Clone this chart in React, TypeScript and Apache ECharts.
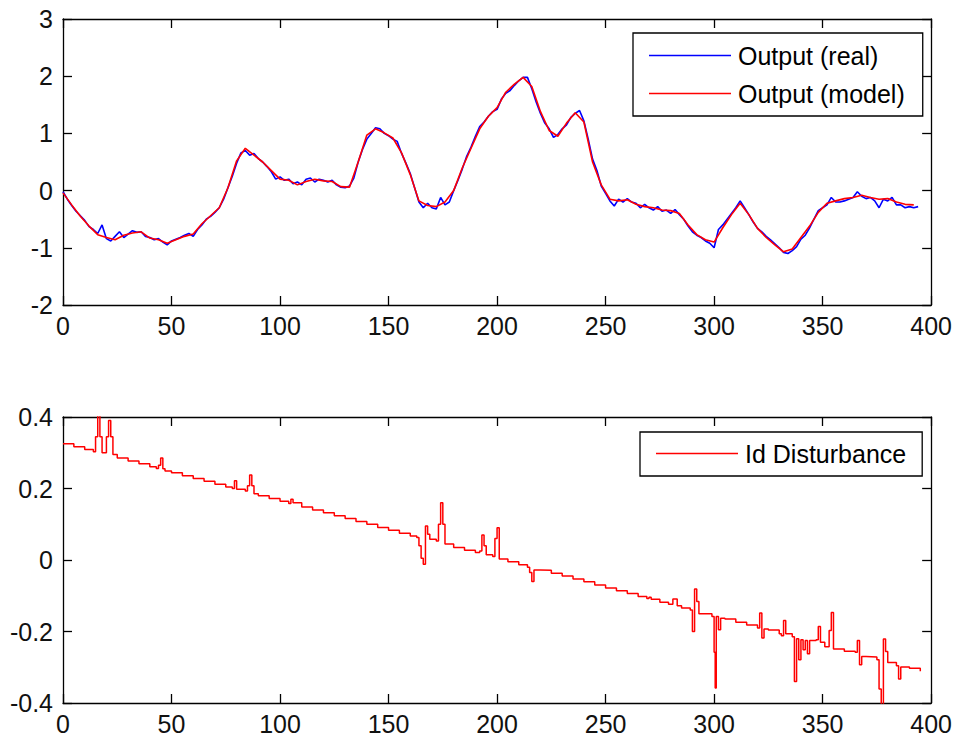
import React, { useEffect, useRef } from "react";
import * as echarts from "echarts";

// ---- data ----
const modelStep = 4;
const modelOutput = [
  -0.04, -0.25, -0.45, -0.62, -0.77, -0.82, -0.86, -0.78, -0.74, -0.72,
  -0.83, -0.86, -0.92, -0.86, -0.8, -0.76, -0.58, -0.44, -0.3, 0.05,
  0.52, 0.74, 0.62, 0.5, 0.35, 0.2, 0.18, 0.1, 0.16, 0.2,
  0.17, 0.16, 0.07, 0.06, 0.5, 0.97, 1.08, 1.01, 0.92, 0.66,
  0.28, -0.18, -0.26, -0.28, -0.2, 0.0, 0.4, 0.74, 1.08, 1.3,
  1.45, 1.72, 1.86, 1.98, 1.82, 1.38, 1.05, 0.95, 1.18, 1.36,
  1.2, 0.5, 0.1, -0.15, -0.18, -0.16, -0.24, -0.28, -0.3, -0.34,
  -0.35, -0.4, -0.6, -0.77, -0.86, -0.9, -0.65, -0.42, -0.22, -0.42,
  -0.66, -0.82, -0.95, -1.07, -1.02, -0.82, -0.62, -0.38, -0.22, -0.18,
  -0.14, -0.12, -0.08, -0.12, -0.15, -0.14, -0.2, -0.24, -0.25,
];

const realStep = 2;
const realOutput = [
  -0.02, -0.15, -0.26, -0.36, -0.44, -0.52, -0.63, -0.68, -0.75, -0.6,
  -0.84, -0.88, -0.8, -0.72, -0.82, -0.76, -0.7, -0.73, -0.72, -0.8,
  -0.82, -0.86, -0.84, -0.9, -0.95, -0.88, -0.85, -0.82, -0.78, -0.75,
  -0.8, -0.68, -0.6, -0.5, -0.45, -0.38, -0.3, -0.15, 0.05, 0.25,
  0.48, 0.66, 0.7, 0.62, 0.65, 0.56, 0.5, 0.42, 0.33, 0.2,
  0.24, 0.18, 0.2, 0.12, 0.15, 0.1, 0.2, 0.22, 0.15, 0.2,
  0.18, 0.15, 0.18, 0.1, 0.06, 0.05, 0.08, 0.22, 0.5, 0.72,
  0.9, 1.0, 1.1, 1.08, 1.0, 0.96, 0.9, 0.86, 0.65, 0.48,
  0.3, 0.05, -0.2, -0.3, -0.22, -0.3, -0.32, -0.12, -0.25, -0.2,
  0.0, 0.18, 0.38, 0.6, 0.76, 0.95, 1.12, 1.2, 1.3, 1.38,
  1.42, 1.6, 1.7, 1.75, 1.84, 1.92, 1.98, 1.98, 1.78, 1.55,
  1.35, 1.18, 1.08, 0.93, 0.98, 1.08, 1.15, 1.28, 1.35, 1.4,
  1.22, 0.9, 0.55, 0.35, 0.08, -0.05, -0.18, -0.27, -0.15, -0.2,
  -0.14, -0.2, -0.22, -0.3, -0.24, -0.3, -0.34, -0.28, -0.36, -0.34,
  -0.4, -0.33, -0.42, -0.5, -0.62, -0.72, -0.78, -0.82, -0.88, -0.92,
  -1.0, -0.68, -0.6, -0.5, -0.4, -0.3, -0.18, -0.3, -0.42, -0.55,
  -0.66, -0.72, -0.8, -0.86, -0.93, -1.0, -1.08, -1.1, -1.05, -0.98,
  -0.85, -0.78, -0.65, -0.5, -0.35, -0.3, -0.25, -0.12, -0.2, -0.2,
  -0.18, -0.15, -0.12, -0.02, -0.1, -0.14, -0.12, -0.18, -0.3, -0.15,
  -0.18, -0.12, -0.25, -0.25, -0.3, -0.28, -0.3, -0.28,
];

const disturbanceT = [
  0, 5, 10, 14, 15, 16, 17, 18, 20, 21, 22, 23, 25, 30, 35, 40, 43, 44, 45, 46,
  47, 50, 55, 60, 65, 70, 75, 78, 79, 80, 84, 85, 86, 87, 88, 90, 95, 100, 104, 105,
  106, 110, 115, 120, 125, 130, 135, 140, 145, 150, 155, 160, 163, 164, 165, 166, 167, 168, 169, 172,
  173, 174, 175, 176, 180, 185, 190, 192, 193, 194, 195, 198, 199, 200, 201, 205, 210, 214, 215, 216,
  217, 220, 225, 230, 235, 240, 245, 250, 255, 260, 265, 269, 270, 271, 275, 279, 281, 283, 285, 289,
  290, 291, 292, 293, 295, 299, 300, 300.5, 301, 302, 303, 305, 310, 315, 320, 321, 322, 323, 325, 330,
  331, 332, 333, 336, 337, 338, 339, 340, 341, 342, 343, 344, 347, 348, 349, 351, 353, 354, 355, 360,
  365, 366, 367, 368, 370, 375, 376, 377, 378, 379, 380, 384, 385, 386, 390, 395,
];
const disturbanceV = [
  0.325, 0.317, 0.309, 0.303, 0.345, 0.42, 0.345, 0.3, 0.345, 0.39, 0.345, 0.295, 0.285, 0.277, 0.269, 0.261, 0.256, 0.265, 0.285, 0.255,
  0.249, 0.244, 0.236, 0.228, 0.22, 0.212, 0.204, 0.2, 0.222, 0.198, 0.193, 0.208, 0.238, 0.208, 0.185, 0.18, 0.172, 0.164, 0.158, 0.17,
  0.16, 0.148, 0.14, 0.132, 0.124, 0.116, 0.108, 0.1, 0.091, 0.083, 0.075, 0.067, 0.063, 0.04, 0.005, -0.012, 0.095, 0.072, 0.058, 0.053,
  0.1, 0.16, 0.1, 0.045, 0.035, 0.027, 0.021, 0.025, 0.07, 0.04, 0.015, 0.01, 0.06, 0.09, 0.003, -0.005, -0.013, -0.02, -0.035, -0.06,
  -0.028, -0.029, -0.037, -0.045, -0.053, -0.061, -0.07, -0.078, -0.086, -0.094, -0.102, -0.108, -0.104, -0.11, -0.118, -0.124, -0.109, -0.128, -0.134, -0.14,
  -0.2, -0.081, -0.116, -0.15, -0.15, -0.158, -0.258, -0.358, -0.158, -0.195, -0.163, -0.165, -0.174, -0.182, -0.19, -0.148, -0.218, -0.193, -0.196, -0.206,
  -0.212, -0.169, -0.206, -0.215, -0.34, -0.22, -0.279, -0.223, -0.251, -0.225, -0.262, -0.225, -0.223, -0.186, -0.23, -0.243, -0.197, -0.147, -0.249, -0.255,
  -0.258, -0.225, -0.293, -0.27, -0.271, -0.279, -0.361, -0.42, -0.221, -0.256, -0.287, -0.296, -0.333, -0.299, -0.303, -0.311,
];

const FONT = "'Liberation Sans', Arial, sans-serif";
const FS = 25;

function pairs(values: number[], step: number): [number, number][] {
  return values.map((v, i) => [i * step, v]);
}

export default function App() {
  const ref = useRef<HTMLDivElement>(null);

  useEffect(() => {
    document.body.style.margin = "0";
    const chart = echarts.init(ref.current!, undefined, { renderer: "svg" });

    const axisLine = { show: true, onZero: false, lineStyle: { color: "#000", width: 1.3 } };
    const tick = { show: true, inside: true, length: 9, lineStyle: { color: "#000", width: 1.3 } };
    const label = { color: "#111", fontSize: FS, fontFamily: FONT };

    const xBase = (gridIndex: number) => ({
      type: "value",
      gridIndex,
      min: 0,
      max: 400,
      interval: 50,
      axisLine,
      axisTick: tick,
      splitLine: { show: false },
    });

    const grids = [
      { left: 63, top: 19, width: 870, height: 286 },
      { left: 63, top: 417, width: 870, height: 286 },
    ];

    const yRanges = [
      { min: -2, max: 3, interval: 1, fmt: (v: number) => String(v) },
      { min: -0.4, max: 0.4, interval: 0.2, fmt: (v: number) => (Math.abs(v) < 1e-9 ? "0" : String(Math.round(v * 10) / 10)) },
    ];

    const xAxis: any[] = [];
    const yAxis: any[] = [];
    [0, 1].forEach((g) => {
      xAxis.push({ ...xBase(g), position: "bottom", axisLabel: { ...label, margin: 8 } });
      xAxis.push({ ...xBase(g), position: "top", axisLabel: { show: false } });
      const r = yRanges[g];
      const yb = {
        type: "value",
        gridIndex: g,
        min: r.min,
        max: r.max,
        interval: r.interval,
        axisLine,
        axisTick: tick,
        splitLine: { show: false },
      };
      yAxis.push({ ...yb, position: "left", axisLabel: { ...label, margin: 10, formatter: r.fmt } });
      yAxis.push({ ...yb, position: "right", axisLabel: { show: false } });
    });

    const legendText = { fontSize: FS, fontFamily: FONT, color: "#000", padding: [0, 0, 0, 2] };

    chart.setOption({
      animation: false,
      backgroundColor: "#fff",
      grid: grids,
      xAxis,
      yAxis,
      legend: [
        {
          data: ["Output (real)", "Output (model)"],
          orient: "vertical",
          left: 633,
          top: 33,
          icon: "rect",
          itemWidth: 82,
          itemHeight: 1.6,
          itemGap: 13,
          padding: [10, 18, 10, 16],
          borderColor: "#000",
          borderWidth: 1.3,
          backgroundColor: "#fff",
          textStyle: legendText,
          selectedMode: false,
        },
        {
          data: ["Id Disturbance"],
          orient: "vertical",
          left: 640,
          top: 432,
          icon: "rect",
          itemWidth: 82,
          itemHeight: 1.6,
          padding: [9, 16, 10, 16],
          borderColor: "#000",
          borderWidth: 1.3,
          backgroundColor: "#fff",
          textStyle: legendText,
          selectedMode: false,
        },
      ],
      series: [
        {
          name: "Output (real)",
          type: "line",
          xAxisIndex: 0,
          yAxisIndex: 0,
          data: pairs(realOutput, realStep),
          showSymbol: false,
          symbol: "none",
          lineStyle: { color: "#0000ff", width: 1.6 },
          itemStyle: { color: "#0000ff" },
        },
        {
          name: "Output (model)",
          type: "line",
          xAxisIndex: 0,
          yAxisIndex: 0,
          data: pairs(modelOutput, modelStep),
          showSymbol: false,
          symbol: "none",
          lineStyle: { color: "#ff0000", width: 1.6 },
          itemStyle: { color: "#ff0000" },
        },
        {
          name: "Id Disturbance",
          type: "line",
          xAxisIndex: 2,
          yAxisIndex: 2,
          data: disturbanceT.map((t, i) => [t, disturbanceV[i]]),
          step: "end",
          showSymbol: false,
          symbol: "none",
          clip: true,
          lineStyle: { color: "#ff0000", width: 1.5 },
          itemStyle: { color: "#ff0000" },
        },
      ],
    });

    return () => chart.dispose();
  }, []);

  return <div ref={ref} style={{ width: 955, height: 740 }} />;
}
